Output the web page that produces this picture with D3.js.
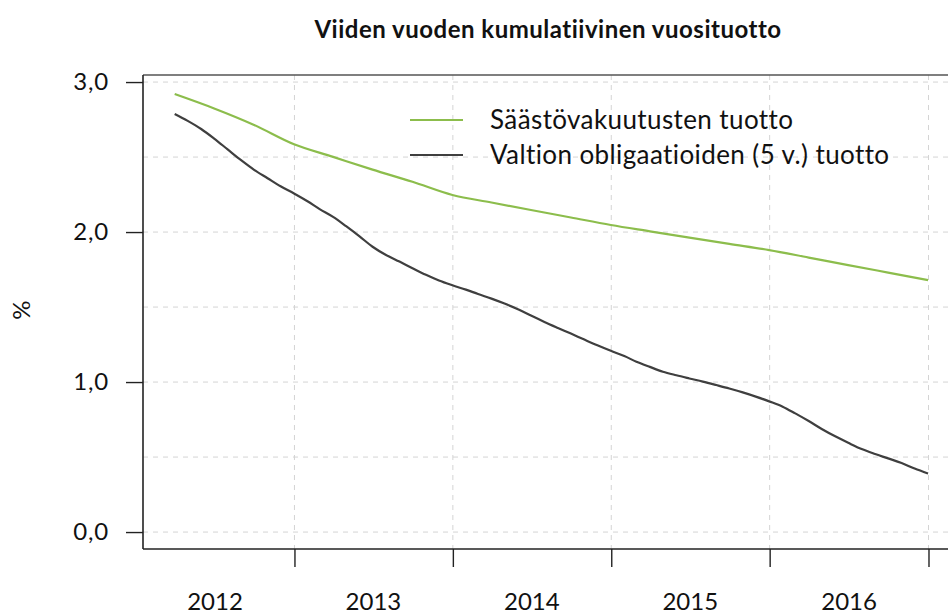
<!DOCTYPE html>
<html>
<head>
<meta charset="utf-8">
<script src="https://cdn.jsdelivr.net/npm/d3@7"></script>
<style>
  body { margin: 0; background: #fff; }
  text { font-family: Lato, "Noto Sans", sans-serif; fill: #111; }
</style>
</head>
<body>
<div id="chart"></div>
<script>
// Viiden vuoden kumulatiivinen vuosituotto
var svgWidth = 948;
var svgHeight = 616;

// plot frame (right side runs past the window edge like in the original)
var frame = { left: 143, top: 75, right: 958, bottom: 549 };

// month-end observations for the bond series
var months = [
  "2012-03", "2012-04", "2012-05", "2012-06", "2012-07", "2012-08", "2012-09", "2012-10", "2012-11", "2012-12",
  "2013-01", "2013-02", "2013-03", "2013-04", "2013-05", "2013-06", "2013-07", "2013-08", "2013-09", "2013-10", "2013-11", "2013-12",
  "2014-01", "2014-02", "2014-03", "2014-04", "2014-05", "2014-06", "2014-07", "2014-08", "2014-09", "2014-10", "2014-11", "2014-12",
  "2015-01", "2015-02", "2015-03", "2015-04", "2015-05", "2015-06", "2015-07", "2015-08", "2015-09", "2015-10", "2015-11", "2015-12",
  "2016-01", "2016-02", "2016-03", "2016-04", "2016-05", "2016-06", "2016-07", "2016-08", "2016-09", "2016-10", "2016-11", "2016-12"
];
var valtio = [
  2.787, 2.741, 2.687, 2.623, 2.551, 2.479, 2.415, 2.359, 2.305, 2.257,
  2.205, 2.153, 2.101, 2.039, 1.971, 1.902, 1.847, 1.803, 1.759, 1.715, 1.677, 1.645,
  1.616, 1.587, 1.556, 1.523, 1.485, 1.443, 1.401, 1.361, 1.323, 1.283, 1.245, 1.208,
  1.173, 1.136, 1.101, 1.069, 1.045, 1.024, 1.003, 0.980, 0.957, 0.931, 0.903, 0.871,
  0.836, 0.791, 0.740, 0.687, 0.638, 0.595, 0.553, 0.520, 0.491, 0.460, 0.423, 0.390
];

// quarter-end observations for the savings insurance series
var quarters = [
  "2012-03", "2012-06", "2012-09", "2012-12",
  "2013-03", "2013-06", "2013-09", "2013-12",
  "2014-03", "2014-06", "2014-09", "2014-12",
  "2015-03", "2015-06", "2015-09", "2015-12",
  "2016-03", "2016-06", "2016-09", "2016-12"
];
var saasto = [
  2.920, 2.824, 2.714, 2.585,
  2.501, 2.416, 2.335, 2.247,
  2.197, 2.147, 2.097, 2.047,
  2.005, 1.963, 1.921, 1.880,
  1.830, 1.780, 1.730, 1.680
];

var years = [2012, 2013, 2014, 2015, 2016];
var yTicks = [0, 1, 2, 3];
var yGrid = [0, 0.5, 1, 1.5, 2, 2.5, 3];

var seriesNames = ["Säästövakuutusten tuotto", "Valtion obligaatioiden (5 v.) tuotto"];
var seriesColors = ["#8cbd4c", "#3f3f3f"];

// month string -> last day of that month
var parseMonth = d3.timeParse("%Y-%m");
function monthEnd(s) {
  return d3.timeDay.offset(d3.timeMonth.offset(parseMonth(s), 1), -1);
}

var svg = d3.select("#chart")
  .append("svg")
  .attr("width", svgWidth)
  .attr("height", svgHeight);

var xScale = d3.scaleTime()
  .domain([new Date(2012, 0, 18), new Date(2017, 2, 10)])
  .range([frame.left, frame.right]);

var yScale = d3.scaleLinear()
  .domain([-0.113, 3.047])
  .range([frame.bottom, frame.top]);

// dashed grid
var gridGroup = svg.append("g");
gridGroup.selectAll(".hgrid")
  .data(yGrid)
  .enter()
  .append("line")
  .attr("x1", frame.left)
  .attr("x2", frame.right)
  .attr("y1", d => yScale(d))
  .attr("y2", d => yScale(d))
  .attr("stroke", "#d4d4d4")
  .attr("stroke-width", 1)
  .attr("stroke-dasharray", "5,5");

var yearStarts = years.map(y => new Date(y + 1, 0, 1));
gridGroup.selectAll(".vgrid")
  .data(yearStarts)
  .enter()
  .append("line")
  .attr("x1", d => xScale(d))
  .attr("x2", d => xScale(d))
  .attr("y1", frame.top)
  .attr("y2", frame.bottom)
  .attr("stroke", "#d4d4d4")
  .attr("stroke-width", 1)
  .attr("stroke-dasharray", "5,5");

// lines
var line = d3.line()
  .curve(d3.curveMonotoneX)
  .x(d => xScale(d.date))
  .y(d => yScale(d.value));

var saastoData = quarters.map((q, i) => ({ date: monthEnd(q), value: saasto[i] }));
var valtioData = months.map((m, i) => ({ date: monthEnd(m), value: valtio[i] }));

svg.append("path")
  .datum(saastoData)
  .attr("fill", "none")
  .attr("stroke", seriesColors[0])
  .attr("stroke-width", 2.2)
  .attr("d", line);

svg.append("path")
  .datum(valtioData)
  .attr("fill", "none")
  .attr("stroke", seriesColors[1])
  .attr("stroke-width", 2.2)
  .attr("stroke-linejoin", "round")
  .attr("d", line);

// frame
svg.append("line")
  .attr("x1", frame.left).attr("x2", frame.right)
  .attr("y1", frame.top).attr("y2", frame.top)
  .attr("stroke", "#555").attr("stroke-width", 1.6);
svg.append("line")
  .attr("x1", frame.left).attr("x2", frame.left)
  .attr("y1", frame.top).attr("y2", frame.bottom)
  .attr("stroke", "#222").attr("stroke-width", 1.6);
svg.append("line")
  .attr("x1", frame.left).attr("x2", frame.right)
  .attr("y1", frame.bottom).attr("y2", frame.bottom)
  .attr("stroke", "#222").attr("stroke-width", 1.6);

// y axis
var leftAxis = d3.axisLeft(yScale)
  .tickValues(yTicks)
  .tickSize(17)
  .tickPadding(17)
  .tickFormat(d => d3.format(".1f")(d).replace(".", ","));

var yAxis = svg.append("g")
  .attr("transform", `translate(${frame.left}, 0)`)
  .call(leftAxis);
yAxis.select(".domain").remove();
yAxis.selectAll("line").attr("stroke", "#222").attr("stroke-width", 1.4);
yAxis.selectAll("text")
  .style("font-family", "Lato, sans-serif")
  .attr("font-size", 24)
  .attr("letter-spacing", 0.8)
  .attr("fill", "#111");

// x axis: ticks at year boundaries, labels mid-year
var bottomAxis = d3.axisBottom(xScale)
  .tickValues(yearStarts)
  .tickSize(18)
  .tickFormat("");

var xAxis = svg.append("g")
  .attr("transform", `translate(0, ${frame.bottom})`)
  .call(bottomAxis);
xAxis.select(".domain").remove();
xAxis.selectAll("line").attr("stroke", "#222").attr("stroke-width", 1.4);

svg.selectAll(".yearLabel")
  .data(years)
  .enter()
  .append("text")
  .attr("x", d => xScale(new Date(d, 6, 2)))
  .attr("y", 610)
  .attr("text-anchor", "middle")
  .attr("font-size", 24)
  .text(d => d);

// y label
svg.append("text")
  .attr("transform", "translate(30, 310) rotate(-90)")
  .attr("text-anchor", "middle")
  .attr("font-size", 24)
  .text("%");

// title
svg.append("text")
  .attr("x", 548)
  .attr("y", 38)
  .attr("text-anchor", "middle")
  .attr("font-size", 24)
  .attr("letter-spacing", 0.5)
  .attr("font-weight", "bold")
  .text("Viiden vuoden kumulatiivinen vuosituotto");

// legend
var legend = svg.append("g");
var legendY = [120, 155];
seriesNames.forEach(function(name, i) {
  legend.append("line")
    .attr("x1", 410).attr("x2", 463)
    .attr("y1", legendY[i]).attr("y2", legendY[i])
    .attr("stroke", seriesColors[i])
    .attr("stroke-width", 2.2);
  legend.append("text")
    .attr("x", 490)
    .attr("y", legendY[i] + 9)
    .attr("font-size", 26)
    .attr("letter-spacing", 0.4)
    .text(name);
});
</script>
</body>
</html>
